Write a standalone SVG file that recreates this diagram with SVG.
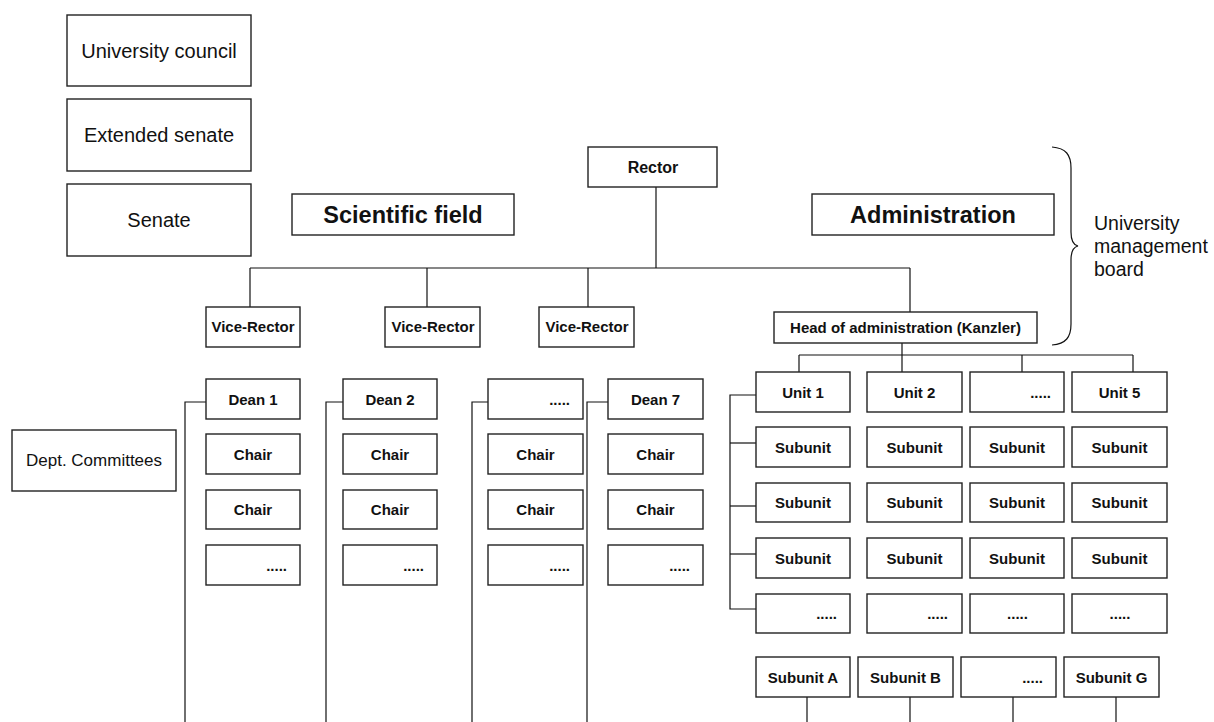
<svg xmlns="http://www.w3.org/2000/svg" width="1214" height="722" viewBox="0 0 1214 722">
<style>
rect{fill:#fff;stroke:#222;stroke-width:1.4}
.c line,.c path{stroke:#111;stroke-width:1.2;fill:none}
text{font-family:"Liberation Sans",Arial,sans-serif;fill:#111}
.n{font-size:20px;text-anchor:middle}
.b{font-size:15px;font-weight:bold;text-anchor:middle}
.d{font-size:15px;font-weight:bold;text-anchor:end}
.h{font-size:23.5px;font-weight:bold;text-anchor:middle}
</style>
<rect width="1214" height="722" style="fill:#fff;stroke:none"/>
<g class="c" id="connectors">
<line x1="656" y1="187" x2="656" y2="268"/>
<line x1="250" y1="268" x2="910" y2="268"/>
<line x1="250" y1="268" x2="250" y2="307"/>
<line x1="427" y1="268" x2="427" y2="307"/>
<line x1="588" y1="268" x2="588" y2="307"/>
<line x1="910" y1="268" x2="910" y2="312"/>
<line x1="902" y1="343" x2="902" y2="372"/>
<line x1="799" y1="355" x2="1133" y2="355"/>
<line x1="799" y1="355" x2="799" y2="372"/>
<line x1="1022" y1="355" x2="1022" y2="372"/>
<line x1="1133" y1="355" x2="1133" y2="372"/>
<path d="M206,402 H185 V722"/>
<path d="M343,402 H326 V722"/>
<path d="M488,402 H472 V722"/>
<path d="M608,402 H587 V722"/>
<path d="M756,395 H730 V609 H756"/>
<line x1="730" y1="443" x2="756" y2="443"/>
<line x1="730" y1="506" x2="756" y2="506"/>
<line x1="730" y1="554" x2="756" y2="554"/>
<line x1="807" y1="697" x2="807" y2="722"/>
<line x1="910" y1="697" x2="910" y2="722"/>
<line x1="1013" y1="697" x2="1013" y2="722"/>
<line x1="1116" y1="697" x2="1116" y2="722"/>
<path d="M1052,147 C1066,148 1071,155 1071,168 V232 C1071,241 1073,245 1078,246 C1073,247 1071,251 1071,260 V324 C1071,337 1066,344 1052,345"/>
</g>
<g id="university-council"><rect x="67" y="15" width="184" height="71"/><text class="n" x="159" y="58">University council</text></g>
<g id="extended-senate"><rect x="67" y="99" width="184" height="72"/><text class="n" x="159" y="142">Extended senate</text></g>
<g id="senate"><rect x="67" y="184" width="184" height="72"/><text class="n" x="159" y="227">Senate</text></g>
<g id="dept-committees"><rect x="12" y="430" width="164" height="61"/><text x="94" y="466" style="font-size:17px;text-anchor:middle">Dept. Committees</text></g>
<g id="scientific-field"><rect x="292" y="194" width="222" height="41"/><text class="h" x="403" y="223">Scientific field</text></g>
<g id="administration"><rect x="812" y="194" width="242" height="41"/><text class="h" x="933" y="223">Administration</text></g>
<g id="rector"><rect x="588" y="147" width="129" height="40"/><text class="b" x="653" y="173" style="font-size:16px">Rector</text></g>
<g id="board-label"><text x="1094" y="230" style="font-size:19.5px">University</text><text x="1094" y="253" style="font-size:19.5px">management</text><text x="1094" y="276" style="font-size:19.5px">board</text></g>
<g id="vr1"><rect x="206" y="307" width="94" height="40"/><text class="b" x="253" y="332">Vice-Rector</text></g>
<g id="vr2"><rect x="385" y="307" width="95" height="40"/><text class="b" x="433" y="332">Vice-Rector</text></g>
<g id="vr3"><rect x="539" y="307" width="95" height="40"/><text class="b" x="587" y="332">Vice-Rector</text></g>
<g id="head-admin"><rect x="774" y="312" width="263" height="31"/><text class="b" x="905.5" y="333">Head of administration (Kanzler)</text></g>
<g id="dean1"><rect x="206" y="379" width="94" height="40"/><text class="b" x="253" y="404.5">Dean 1</text></g>
<g id="d1c1"><rect x="206" y="434" width="94" height="40"/><text class="b" x="253" y="459.5">Chair</text></g>
<g id="d1c2"><rect x="206" y="490" width="94" height="39"/><text class="b" x="253" y="515">Chair</text></g>
<g id="d1c3"><rect x="206" y="545" width="94" height="40"/><text class="d" x="287" y="570.5">.....</text></g>
<g id="dean2"><rect x="343" y="379" width="94" height="40"/><text class="b" x="390" y="404.5">Dean 2</text></g>
<g id="d2c1"><rect x="343" y="434" width="94" height="40"/><text class="b" x="390" y="459.5">Chair</text></g>
<g id="d2c2"><rect x="343" y="490" width="94" height="39"/><text class="b" x="390" y="515">Chair</text></g>
<g id="d2c3"><rect x="343" y="545" width="94" height="40"/><text class="d" x="424" y="570.5">.....</text></g>
<g id="dean-x"><rect x="488" y="379" width="95" height="40"/><text class="d" x="570" y="404.5">.....</text></g>
<g id="dxc1"><rect x="488" y="434" width="95" height="40"/><text class="b" x="535.5" y="459.5">Chair</text></g>
<g id="dxc2"><rect x="488" y="490" width="95" height="39"/><text class="b" x="535.5" y="515">Chair</text></g>
<g id="dxc3"><rect x="488" y="545" width="95" height="40"/><text class="d" x="570" y="570.5">.....</text></g>
<g id="dean7"><rect x="608" y="379" width="95" height="40"/><text class="b" x="655.5" y="404.5">Dean 7</text></g>
<g id="d7c1"><rect x="608" y="434" width="95" height="40"/><text class="b" x="655.5" y="459.5">Chair</text></g>
<g id="d7c2"><rect x="608" y="490" width="95" height="39"/><text class="b" x="655.5" y="515">Chair</text></g>
<g id="d7c3"><rect x="608" y="545" width="95" height="40"/><text class="d" x="690" y="570.5">.....</text></g>
<g id="unit1"><rect x="756" y="372" width="94" height="40"/><text class="b" x="803" y="397.5">Unit 1</text></g>
<g id="unit2"><rect x="867" y="372" width="95" height="40"/><text class="b" x="914.5" y="397.5">Unit 2</text></g>
<g id="unit-x"><rect x="970" y="372" width="94" height="40"/><text class="d" x="1051" y="397.5">.....</text></g>
<g id="unit5"><rect x="1072" y="372" width="95" height="40"/><text class="b" x="1119.5" y="397.5">Unit 5</text></g>
<g id="u1s1"><rect x="756" y="427" width="94" height="40"/><text class="b" x="803" y="452.5">Subunit</text></g>
<g id="u2s1"><rect x="867" y="427" width="95" height="40"/><text class="b" x="914.5" y="452.5">Subunit</text></g>
<g id="uxs1"><rect x="970" y="427" width="94" height="40"/><text class="b" x="1017" y="452.5">Subunit</text></g>
<g id="u5s1"><rect x="1072" y="427" width="95" height="40"/><text class="b" x="1119.5" y="452.5">Subunit</text></g>
<g id="u1s2"><rect x="756" y="483" width="94" height="39"/><text class="b" x="803" y="508">Subunit</text></g>
<g id="u2s2"><rect x="867" y="483" width="95" height="39"/><text class="b" x="914.5" y="508">Subunit</text></g>
<g id="uxs2"><rect x="970" y="483" width="94" height="39"/><text class="b" x="1017" y="508">Subunit</text></g>
<g id="u5s2"><rect x="1072" y="483" width="95" height="39"/><text class="b" x="1119.5" y="508">Subunit</text></g>
<g id="u1s3"><rect x="756" y="538" width="94" height="40"/><text class="b" x="803" y="563.5">Subunit</text></g>
<g id="u2s3"><rect x="867" y="538" width="95" height="40"/><text class="b" x="914.5" y="563.5">Subunit</text></g>
<g id="uxs3"><rect x="970" y="538" width="94" height="40"/><text class="b" x="1017" y="563.5">Subunit</text></g>
<g id="u5s3"><rect x="1072" y="538" width="95" height="40"/><text class="b" x="1119.5" y="563.5">Subunit</text></g>
<g id="u1s4"><rect x="756" y="594" width="94" height="39"/><text class="d" x="837" y="619">.....</text></g>
<g id="u2s4"><rect x="867" y="594" width="95" height="39"/><text class="d" x="948" y="619">.....</text></g>
<g id="uxs4"><rect x="970" y="594" width="94" height="39"/><text class="b" x="1017.5" y="619">.....</text></g>
<g id="u5s4"><rect x="1072" y="594" width="95" height="39"/><text class="b" x="1120" y="619">.....</text></g>
<g id="subA"><rect x="756" y="657" width="94" height="40"/><text class="b" x="803" y="682.5">Subunit A</text></g>
<g id="subB"><rect x="858" y="657" width="95" height="40"/><text class="b" x="905.5" y="682.5">Subunit B</text></g>
<g id="subX"><rect x="961" y="657" width="95" height="40"/><text class="d" x="1043" y="682.5">.....</text></g>
<g id="subG"><rect x="1064" y="657" width="95" height="40"/><text class="b" x="1111.5" y="682.5">Subunit G</text></g>
</svg>
